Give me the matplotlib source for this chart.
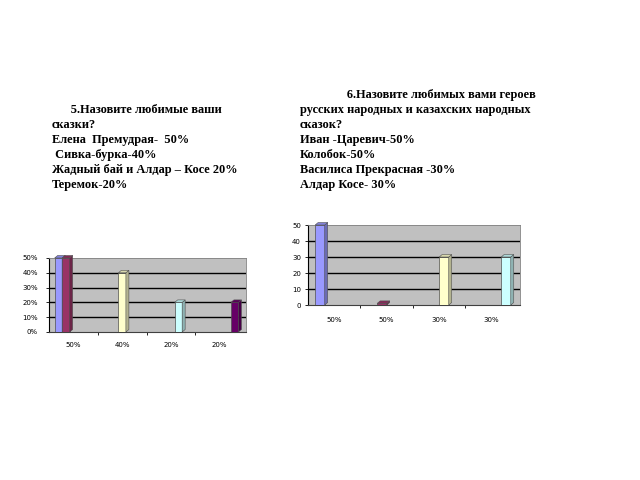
import matplotlib
matplotlib.use("Agg")
import matplotlib.pyplot as plt
from matplotlib.patches import Polygon
import numpy as np

# ---------------- data ----------------
q5_lines = ["      5.Назовите любимые ваши",
            "сказки?",
            "Елена  Премудрая-  50%",
            " Сивка-бурка-40%",
            "Жадный бай и Алдар – Косе 20%",
            "Теремок-20%"]
q6_lines = ["               6.Назовите любимых вами героев",
            "русских народных и казахских народных",
            "сказок?",
            "Иван -Царевич-50%",
            "Колобок-50%",
            "Василиса Прекрасная -30%",
            "Алдар Косе- 30%"]

left_categories = ["50%", "40%", "20%", "20%"]
left_values = [50, 50, 40, 20, 20]          # one series per answer
left_series_cat = [0, 0, 1, 2, 3]           # category of each series
left_colors = ["#9999FF", "#993366", "#FFFFCC", "#CCFFFF", "#660066"]
left_yticks = [0, 10, 20, 30, 40, 50]
left_yticklabels = ["0%", "10%", "20%", "30%", "40%", "50%"]

right_categories = ["50%", "50%", "30%", "30%"]
right_values = [50, 1, 30, 30]
right_series_cat = [0, 1, 2, 3]
right_colors = ["#9999FF", "#993366", "#FFFFCC", "#CCFFFF"]
right_yticks = [0, 10, 20, 30, 40, 50]
right_yticklabels = ["0", "10", "20", "30", "40", "50"]

W, H = 640, 480
fig = plt.figure(figsize=(6.4, 4.8), dpi=100)
fig.patch.set_facecolor("white")


def px(x, y):
    return x / W, 1 - y / H


def darker(c, f=0.6):
    r, g, b, _ = matplotlib.colors.to_rgba(c)
    return (r * f, g * f, b * f)


def bar3d_chart(rect, cats, vals, scat, colors, yt, ytl, label_pad, ytick_pad):
    x0, y0, x1, y1 = rect  # pixel rect: left, top, right, bottom(zero line)
    l, b = px(x0, y1)
    ax = fig.add_axes([l, b, (x1 - x0) / W, (y1 - y0) / H])
    ncat = len(cats)
    xmax = ncat * 1.01
    ax.set_xlim(0, xmax)
    ax.set_ylim(0, 50)
    ax.set_facecolor("#C0C0C0")
    for s in ["top", "right"]:
        ax.spines[s].set_color("#808080")
        ax.spines[s].set_linewidth(0.6)
    ax.spines["left"].set_color("black")
    ax.spines["bottom"].set_color("#404040")
    ax.spines["left"].set_linewidth(0.8)
    ax.spines["bottom"].set_linewidth(0.8)
    for v in yt[1:-1]:
        ax.axhline(v, color="black", lw=1.0, zorder=1)
    nser = len(vals)
    w = 1.0 / (nser + 1.5)
    gap = 1.5 * w
    dxp, dyp = 3.0, 2.5
    dx = dxp * xmax / (x1 - x0)
    dy = dyp * 50 / (y1 - y0)
    for i, (v, c, col) in enumerate(zip(vals, scat, colors)):
        xl = c + gap / 2 + i * w
        ax.bar(xl, v, width=w, align="edge", color=col, edgecolor="#505050",
               lw=0.5, zorder=3)
        side = Polygon([(xl + w, 0), (xl + w, v), (xl + w + dx, v + dy),
                        (xl + w + dx, dy)], closed=True, facecolor=darker(col, 0.7),
                       edgecolor="#505050", lw=0.4, zorder=3, clip_on=False)
        top = Polygon([(xl, v), (xl + w, v), (xl + w + dx, v + dy), (xl + dx, v + dy)],
                      closed=True, facecolor=darker(col, 0.85), edgecolor="#505050",
                      lw=0.4, zorder=3, clip_on=False)
        ax.add_patch(side)
        ax.add_patch(top)
    ax.set_yticks(yt)
    ax.set_yticklabels(ytl, fontsize=5, family="DejaVu Sans")
    ax.tick_params(axis="y", length=2, pad=ytick_pad, width=0.6)
    ax.set_xticks([k + 0.5 for k in range(ncat)])
    ax.set_xticklabels(cats, fontsize=5, family="DejaVu Sans")
    ax.tick_params(axis="x", length=0, pad=label_pad)
    ax.set_xticks(list(range(1, ncat)), minor=True)
    ax.tick_params(axis="x", which="minor", length=2, width=0.6, direction="out")
    return ax


bar3d_chart((49, 258, 246, 332), left_categories, left_values, left_series_cat,
            left_colors, left_yticks, left_yticklabels, label_pad=7, ytick_pad=6)
bar3d_chart((308, 225, 520, 305), right_categories, right_values, right_series_cat,
            right_colors, right_yticks, right_yticklabels, label_pad=9, ytick_pad=3)

font = dict(family="Liberation Serif", fontweight="bold", fontsize=8.9, va="center",
            ha="left")
for k, line in enumerate(q5_lines):
    fig.text(*px(52, 110 + k * 15.0), line, **font)
for k, line in enumerate(q6_lines):
    fig.text(*px(300, 95 + k * 15.0), line, **font)

fig.savefig("out.png", dpi=100, facecolor="white")
